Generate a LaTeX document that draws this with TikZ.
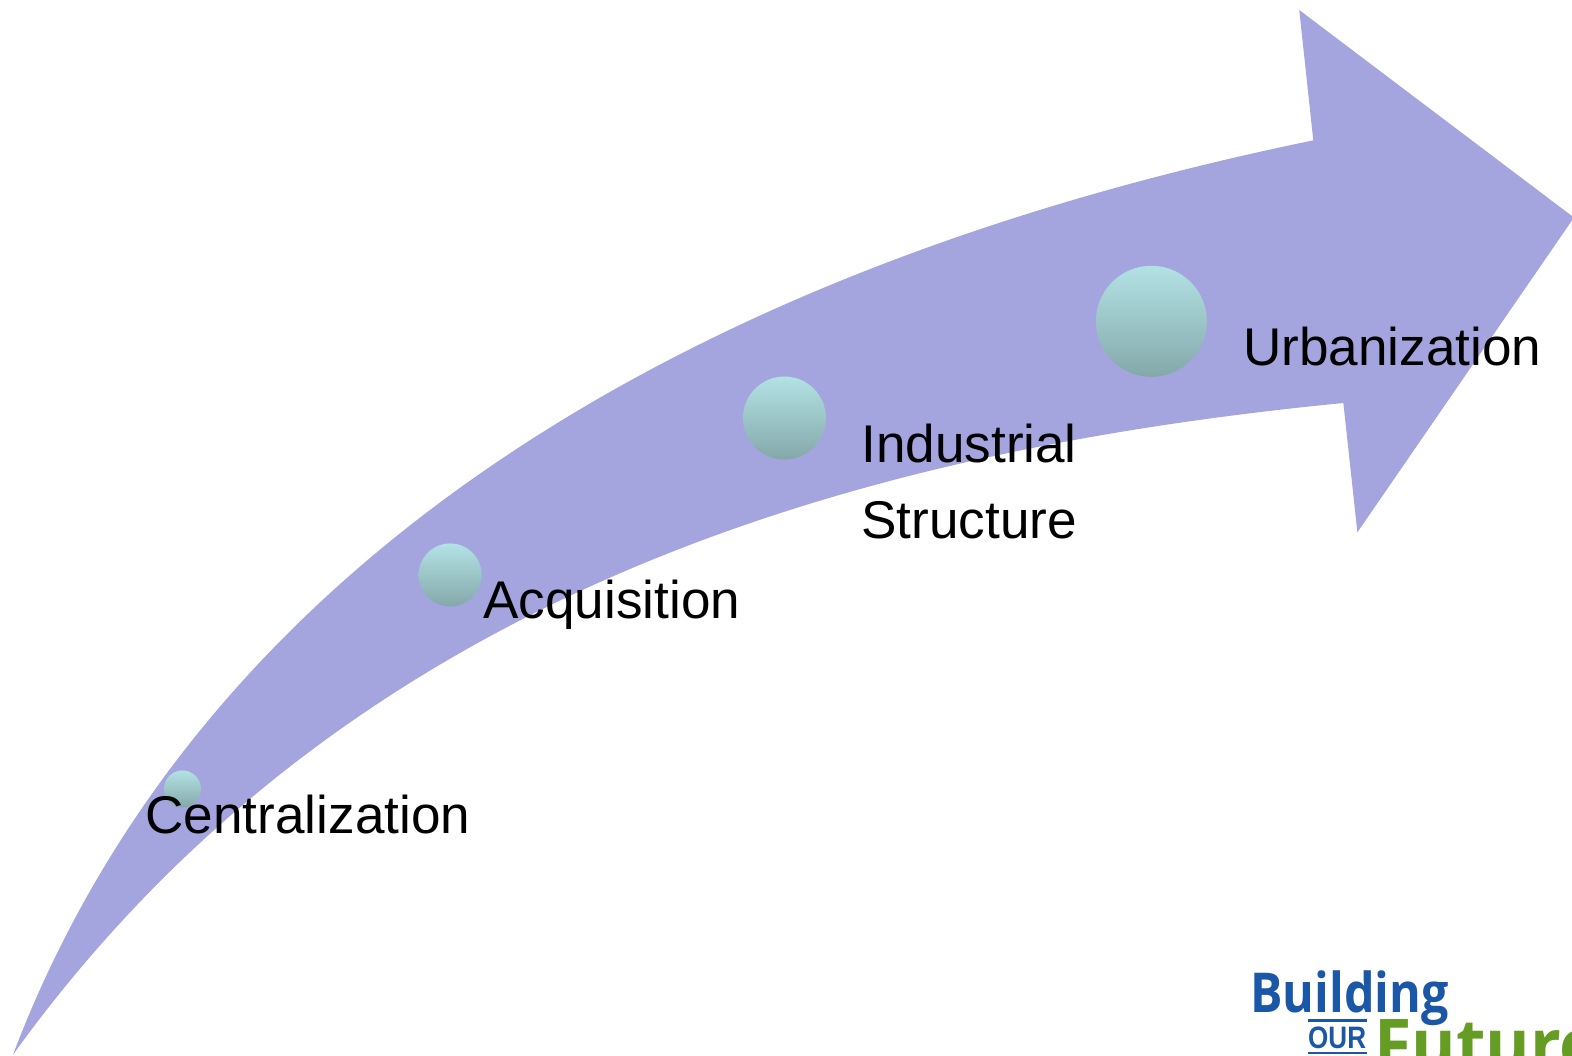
\documentclass[tikz,border=0pt]{standalone}
\usepackage{fontspec}
\setmainfont{Liberation Sans}
\newfontfamily\logofont{Open Sans}
\definecolor{arrowfill}{HTML}{A4A5DF}
\definecolor{balltop}{HTML}{B3E2E4}
\definecolor{ballbot}{HTML}{84A8AA}
\definecolor{logoblue}{HTML}{1A57A6}
\definecolor{logogreen}{HTML}{659C24}
\tikzset{
  ball/.style={circle,inner sep=0pt,top color=balltop,bottom color=ballbot,draw=none},
  lab/.style={inner sep=0pt,anchor=base west,font=\fontsize{53.1}{76}\selectfont,text=black},
  logotext/.style={inner sep=0pt,anchor=base west},
}
\begin{document}
\begin{tikzpicture}[x=1pt,y=-1pt]
\useasboundingbox (0,0) rectangle (1572,1056);
\clip (0,0) rectangle (1572,1056);
\begin{scope}[scale=1.0025]
\fill[arrowfill] (13,1052)
  .. controls (188,590) and (640,278) .. (1310,140)
  -- (1296,10) -- (1570,217) -- (1354,531) -- (1340,402)
  .. controls (860,449) and (348,587) .. (13,1052) -- cycle;
\node[ball,minimum size=37pt] (b1) at (182,787) {};
\node[ball,minimum size=63pt] (b2) at (449,573.5) {};
\node[ball,minimum size=83pt] (b3) at (782.5,417) {};
\node[ball,minimum size=111pt] (b4) at (1148.5,320.5) {};
\node[lab] (t1) at (145,831) {Centralization};
\node[lab] (t2) at (482,617) {Acquisition};
\node[lab] (t3) at (859,461) {Industrial};
\node[lab] (t3b) at (859,537) {Structure};
\node[lab] (t4) at (1240,365) {Urbanization};
\end{scope}
\node[logotext,text=logoblue,font=\logofont\bfseries\fontsize{55}{55}\selectfont] (l1) at (1250,1012) {\scalebox{0.88}[1]{Building}};
\node[logotext,text=logoblue,font=\bfseries\fontsize{31}{31}\selectfont] (l2) at (1308,1048) {\scalebox{0.84}[1]{OUR}};
\draw[logoblue,line width=2.5pt] (l2.base west |- 0,1020.7) -- ++(59,0) coordinate (r1);
\draw[logoblue,line width=2.5pt] (l2.base west |- 0,1053) -- ++(59,0) coordinate (r2);
\node[logotext,text=logogreen,font=\logofont\bfseries\fontsize{70}{70}\selectfont] (l3) at (1374,1069) {\scalebox{0.97}[1]{Future}};
\end{tikzpicture}
\end{document}
